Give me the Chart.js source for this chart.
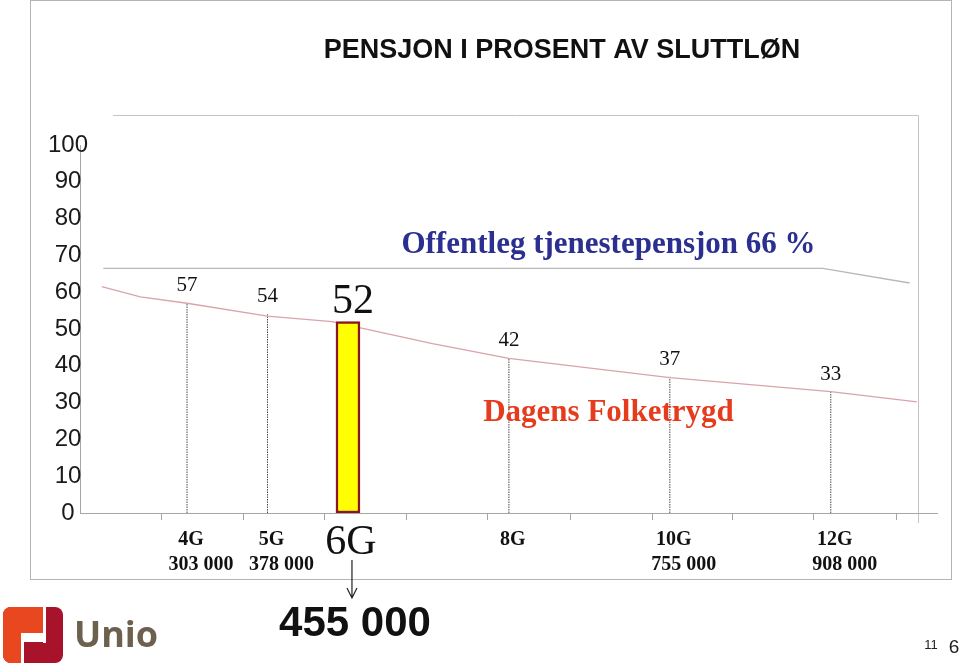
<!DOCTYPE html>
<html>
<head>
<meta charset="utf-8">
<script src="https://cdn.jsdelivr.net/npm/chart.js@4.4.1/dist/chart.umd.min.js"></script>
<style>
  html, body { margin: 0; padding: 0; background: #fff; }
  #wrap { width: 960px; height: 665px; }
</style>
</head>
<body>
<div id="wrap"><canvas id="pensionChart" width="960" height="665"></canvas></div>
<script>
const gLevels = [4, 5, 6, 8, 10, 12];
const gLabels = ['4G', '5G', '6G', '8G', '10G', '12G'];
const salaryLabels = ['303 000', '378 000', '455 000', '', '755 000', '908 000'];
const pensionPct = [57, 54, 52, 42, 37, 33];

// Dagens folketrygd
const folketrygdG = [2.94, 3.42, 4, 5, 5.8, 7.05, 8, 10, 12, 13.07];
const folketrygdPct = [61.5, 58.7, 57, 53.5, 52, 46, 42, 36.8, 33, 30.2];

// Offentleg tjenestepensjon
const offentlegG = [2.96, 11.9, 12.98];
const offentlegPct = [66.5, 66.5, 62.5];

// small tick marks under the x axis
const axisTickG = [3.68, 4.7, 5.71, 6.73, 7.74, 8.76, 9.78, 10.78, 11.79, 12.82];

const highlightIndex = 2;

const ctx = document.getElementById('pensionChart').getContext('2d');

const dropData = [];
gLevels.forEach((g, i) => {
  dropData.push({ x: g, y: 0 }, { x: g, y: pensionPct[i] }, { x: g, y: null });
});

const SERIF = '"Liberation Serif", "Times New Roman", serif';
const SANS = '"Liberation Sans", Arial, sans-serif';

const slideDecor = {
  id: 'slideDecor',
  beforeDraw(chart) {
    const { ctx, chartArea: a } = chart;
    ctx.save();
    ctx.strokeStyle = '#b4b4b4';
    ctx.lineWidth = 1;
    ctx.strokeRect(30.5, 0.5, 921, 579);
    // frame of the pasted plot area
    ctx.strokeStyle = '#c4c4c4';
    ctx.beginPath();
    ctx.moveTo(113, a.top - 29.5);
    ctx.lineTo(a.right - 18.5, a.top - 29.5);
    ctx.lineTo(a.right - 18.5, a.bottom + 10);
    ctx.stroke();
    ctx.restore();
  },
  afterDraw(chart) {
    const { ctx, chartArea: a, scales: { x, y } } = chart;
    ctx.save();
    ctx.fillStyle = '#111';
    ctx.textAlign = 'center';

    ctx.font = 'bold 27px ' + SANS;
    ctx.textBaseline = 'middle';
    ctx.fillText('PENSJON I PROSENT AV SLUTTLØN', 562, 51);

    gLevels.forEach((g, i) => {
      const px = x.getPixelForValue(g);
      const top = y.getPixelForValue(pensionPct[i]);
      const big = i === highlightIndex;
      ctx.fillStyle = '#111';
      ctx.textBaseline = 'alphabetic';
      ctx.font = (big ? '42px ' : '21px ') + SERIF;
      ctx.fillText(String(pensionPct[i]), px + (big ? 5 : 0), top - (big ? 9 : 12));
      ctx.textBaseline = 'middle';
      if (big) {
        ctx.font = '42px ' + SERIF;
        ctx.fillText(gLabels[i], px + 3, a.bottom + 30);
        const ax = px + 4;
        ctx.strokeStyle = '#222';
        ctx.lineWidth = 1.2;
        ctx.beginPath();
        ctx.moveTo(ax, a.bottom + 47);
        ctx.lineTo(ax, a.bottom + 85);
        ctx.moveTo(ax - 5, a.bottom + 75);
        ctx.lineTo(ax, a.bottom + 85);
        ctx.lineTo(ax + 5, a.bottom + 75);
        ctx.stroke();
        ctx.font = 'bold 42px ' + SANS;
        ctx.fillText(salaryLabels[i], px + 7, a.bottom + 111);
      } else {
        ctx.font = 'bold 20px ' + SERIF;
        ctx.fillText(gLabels[i], px + 4, a.bottom + 27);
        if (salaryLabels[i]) ctx.fillText(salaryLabels[i], px + 14, a.bottom + 52);
      }
    });

    const cx = (a.left + a.right) / 2 + 100;
    ctx.textBaseline = 'alphabetic';
    ctx.font = 'bold 31px ' + SERIF;
    ctx.fillStyle = '#2b2f8f';
    ctx.fillText('Offentleg tjenestepensjon 66 %', cx, y.getPixelForValue(offentlegPct[0]) - 15);
    ctx.fillStyle = '#e63c1e';
    ctx.fillText('Dagens Folketrygd', cx, a.bottom - 92);

    // page numbers
    ctx.fillStyle = '#222';
    ctx.textBaseline = 'middle';
    ctx.font = '13px ' + SANS;
    ctx.fillText('11', 931, 645);
    ctx.font = '19px ' + SANS;
    ctx.fillText('6', 954, 648);

    // Unio logo
    ctx.save();
    ctx.beginPath();
    ctx.roundRect(3, 607, 60, 56, 8);
    ctx.clip();
    ctx.fillStyle = '#a8122b';
    ctx.fillRect(3, 607, 60, 56);
    ctx.fillStyle = '#e9471f';
    ctx.beginPath();
    ctx.moveTo(3, 607);
    ctx.lineTo(44, 607);
    ctx.lineTo(44, 634);
    ctx.lineTo(22, 634);
    ctx.lineTo(22, 663);
    ctx.lineTo(3, 663);
    ctx.closePath();
    ctx.fill();
    ctx.fillStyle = '#fff';
    ctx.fillRect(43, 607, 3, 36);
    ctx.fillRect(21, 633, 25, 9);
    ctx.fillRect(21, 633, 3, 30);
    ctx.restore();
    ctx.fillStyle = '#6d604e';
    ctx.textAlign = 'left';
    ctx.textBaseline = 'alphabetic';
    ctx.font = 'bold 36px "Open Sans", ' + SANS;
    ctx.fillText('Unio', 74, 647);

    ctx.restore();
  }
};

new Chart(ctx, {
  type: 'line',
  data: {
    datasets: [
      {
        type: 'bar',
        label: '6G',
        data: [{ x: gLevels[highlightIndex], y: pensionPct[highlightIndex] }],
        backgroundColor: '#ffff00',
        borderColor: '#8b1520',
        borderWidth: 2.5,
        borderSkipped: false,
        barThickness: 24,
        order: 0
      },
      {
        label: 'Dagens Folketrygd',
        data: folketrygdG.map((g, i) => ({ x: g, y: folketrygdPct[i] })),
        borderColor: '#d9a3aa',
        borderWidth: 1.3,
        pointRadius: 0,
        tension: 0,
        order: 1
      },
      {
        label: 'Offentleg tjenestepensjon',
        data: offentlegG.map((g, i) => ({ x: g, y: offentlegPct[i] })),
        borderColor: '#b8b8b8',
        borderWidth: 1.3,
        pointRadius: 0,
        tension: 0,
        order: 2
      },
      {
        label: 'drop',
        data: dropData,
        borderColor: '#4a4a4a',
        borderWidth: 1,
        borderDash: [1.5, 1],
        pointRadius: 0,
        spanGaps: false,
        order: 3
      }
    ]
  },
  options: {
    responsive: false,
    animation: false,
    layout: { padding: { left: 30, right: 23, top: 145, bottom: 142 } },
    plugins: {
      legend: { display: false },
      title: { display: false },
      tooltip: { enabled: false }
    },
    scales: {
      x: {
        type: 'linear',
        min: 2.67,
        max: 13.32,
        offset: false,
        afterBuildTicks: scale => {
          scale.ticks = axisTickG.map(v => ({ value: v }));
        },
        afterFit: scale => { scale.height = 10; },
        ticks: { display: false },
        grid: { offset: false, drawOnChartArea: false, drawTicks: true, tickLength: 7, color: '#a6a6a6' },
        border: { color: '#a6a6a6', width: 1 }
      },
      y: {
        min: 0,
        max: 100,
        afterFit: scale => { scale.width = 50; },
        ticks: {
          stepSize: 10,
          mirror: true,
          crossAlign: 'center',
          padding: -32,
          color: '#1a1a1a',
          font: { family: SANS, size: 24 }
        },
        grid: { display: false, drawTicks: false },
        border: { color: '#a6a6a6', width: 1 }
      }
    }
  },
  plugins: [slideDecor]
});
</script>
</body>
</html>
